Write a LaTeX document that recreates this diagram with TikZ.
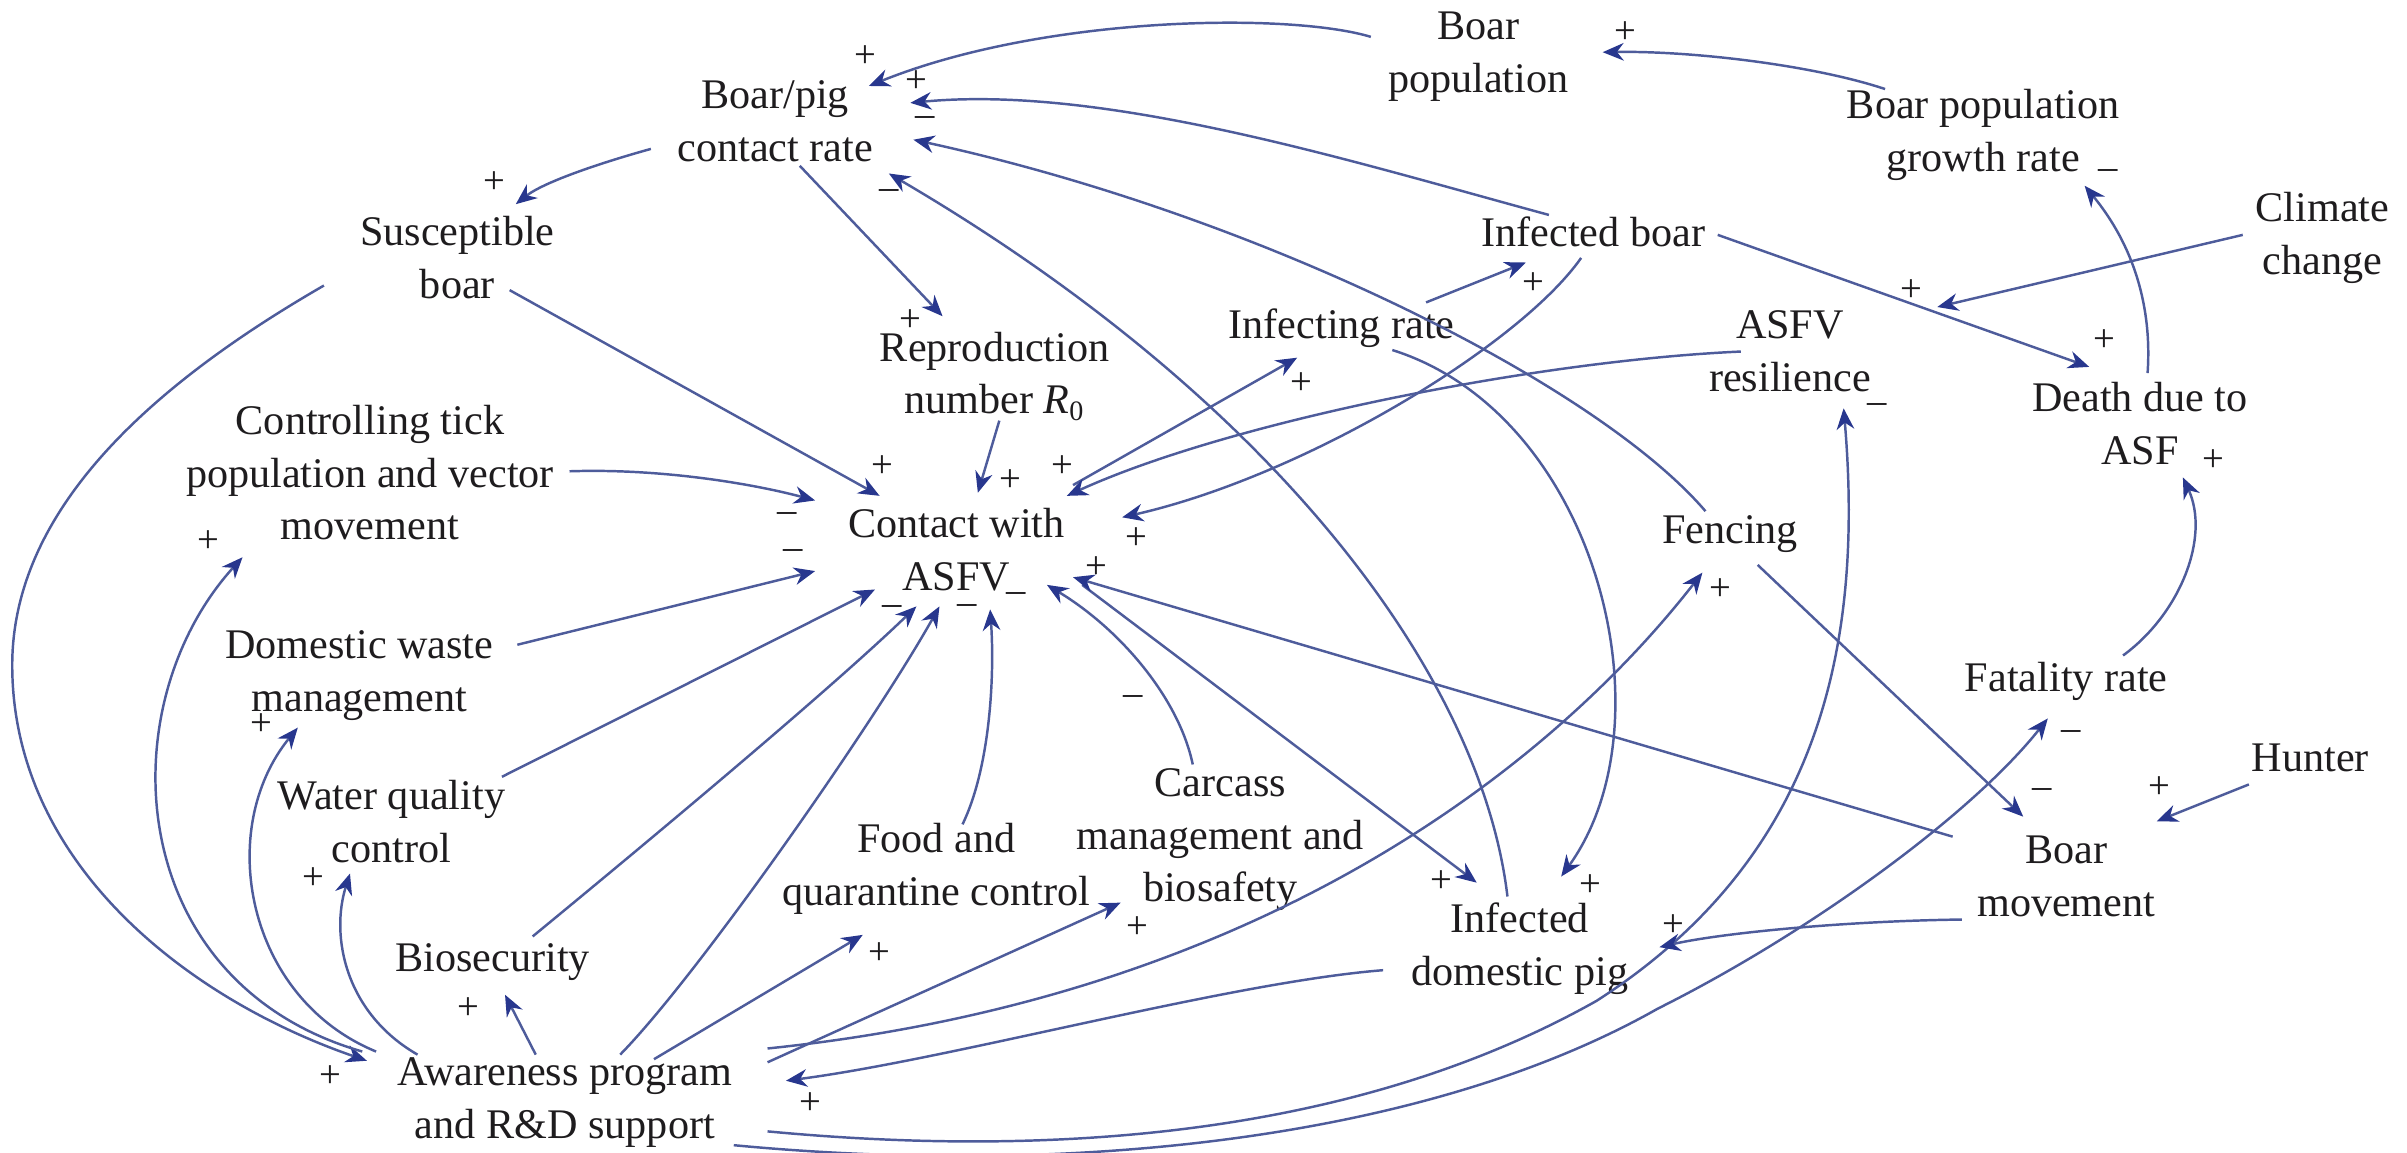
\documentclass[tikz,border=0pt]{standalone}
\usepackage{fontspec}
\setmainfont{Liberation Serif}
\usetikzlibrary{arrows.meta}
\definecolor{lnc}{RGB}{78,92,155}
\definecolor{arc}{RGB}{40,55,142}
\definecolor{txc}{RGB}{30,28,30}
\begin{document}
\begin{tikzpicture}[x=0.015351cm,y=-0.015351cm,
  lbl/.style={text=txc,font=\fontsize{12}{15}\selectfont,align=center,inner sep=1pt},
  sgn/.style={text=txc,font=\fontsize{11}{11}\selectfont,inner sep=0pt},
  lk/.style={draw=lnc,line width=0.7pt,-{Stealth[length=6pt,width=5pt,color=arc]}}]
\useasboundingbox (0,0) rectangle (1568,751);
% nodes
\node[lbl] (bp) at (505,79) {Boar/pig\\contact rate};
\node[lbl] (pop) at (963,37) {Boar\\population};
\node[lbl] (gr) at (1292,88) {Boar population\\growth rate};
\node[lbl] (sus) at (298,168) {Susceptible\\boar};
\node[lbl] (ib) at (1038,151) {Infected boar};
\node[lbl] (cc) at (1513,155) {Climate\\change};
\node[lbl] (r0) at (648,245) {Reproduction\\number \textit{R}\textsubscript{0}};
\node[lbl] (ir) at (874,214) {Infecting rate};
\node[lbl] (res) at (1166,229) {ASFV\\resilience};
\node[lbl] (death) at (1394,276) {Death due to\\ASF};
\node[lbl] (tick) at (241,308) {Controlling tick\\population and vector\\movement};
\node[lbl] (con) at (623,358) {Contact with\\ASFV};
\node[lbl] (fen) at (1127,348) {Fencing};
\node[lbl] (waste) at (234,440) {Domestic waste\\management};
\node[lbl] (fat) at (1346,444) {Fatality rate};
\node[lbl] (water) at (255,535) {Water quality\\control};
\node[lbl] (hunt) at (1505,494) {Hunter};
\node[lbl] (food) at (610,566) {Food and\\quarantine control};
\node[lbl] (carc) at (795,547) {Carcass\\management and\\biosafety};
\node[lbl] (idp) at (990,618) {Infected\\domestic pig};
\node[lbl] (bm) at (1346,571) {Boar\\movement};
\node[lbl] (bio) at (321,627) {Biosecurity};
\node[lbl] (aw) at (368,718) {Awareness program\\and R\&D support};
% waypoints
\coordinate (w1) at (8,430);
\coordinate (w2) at (1040,652);
\coordinate (w3) at (1080,657);
\coordinate (cct) at (1262,200);
% links
\draw[lk] ([shift={(-70,-13)}]pop.center) .. controls (840,8) and (680,10) .. ([shift={(61,-23)}]bp.center);
\draw[lk] ([shift={(-64,-30)}]gr.center) .. controls (1180,42) and (1100,33) .. ([shift={(81,-3)}]pop.center);
\draw[lk] ([shift={(-29,-11)}]ib.center) .. controls (880,105) and (720,55) .. ([shift={(88,-12)}]bp.center);
\draw[lk] ([shift={(-16,-15)}]fen.center) .. controls (1040,250) and (820,140) .. ([shift={(90,12)}]bp.center);
\draw[lk] ([shift={(-8,-34)}]idp.center) .. controls (965,440) and (830,260) .. ([shift={(74,34)}]bp.center);
\draw[lk] ([shift={(-81,18)}]bp.center) .. controls (395,105) and (355,118) .. ([shift={(38,-35)}]sus.center);
\draw[lk] ([shift={(16,29)}]bp.center) -- ([shift={(-34,-39)}]r0.center);
\draw[lk] ([shift={(34,21)}]sus.center) -- ([shift={(-50,-35)}]con.center);
\draw[lk] ([shift={(3,29)}]r0.center) -- ([shift={(14,-37)}]con.center);
\draw[lk] ([shift={(55,-17)}]ir.center) -- ([shift={(-44,20)}]ib.center);
\draw[lk] ([shift={(76,-42)}]con.center) -- ([shift={(-29,19)}]ir.center);
\draw[lk] ([shift={(-32,0)}]res.center) .. controls (1000,235) and (800,275) .. ([shift={(72,-35)}]con.center);
\draw[lk] ([shift={(-8,17)}]ib.center) .. controls (990,225) and (850,310) .. ([shift={(108,-21)}]con.center);
\draw[lk] ([shift={(33,14)}]ir.center) .. controls (1040,270) and (1090,470) .. ([shift={(27,-47)}]idp.center);
\draw[lk] ([shift={(82,23)}]con.center) -- ([shift={(-28,-43)}]idp.center);
\draw[lk] ([shift={(-74,-26)}]bm.center) -- ([shift={(76,18)}]con.center);
\draw[lk] ([shift={(-18,-49)}]carc.center) .. controls (768,455) and (730,410) .. ([shift={(59,23)}]con.center);
\draw[lk] ([shift={(17,-29)}]food.center) .. controls (645,500) and (648,440) .. ([shift={(22,39)}]con.center);
\draw[lk] ([shift={(130,-1)}]tick.center) .. controls (430,305) and (490,315) .. ([shift={(-92,-32)}]con.center);
\draw[lk] ([shift={(103,-20)}]waste.center) -- ([shift={(-92,14)}]con.center);
\draw[lk] ([shift={(72,-29)}]water.center) -- ([shift={(-53,26)}]con.center);
\draw[lk] ([shift={(26,-17)}]bio.center) .. controls (420,550) and (540,450) .. ([shift={(-26,37)}]con.center);
\draw[lk] ([shift={(36,-31)}]aw.center) .. controls (455,635) and (570,470) .. ([shift={(-11,37)}]con.center);
\draw[lk] ([shift={(58,-28)}]aw.center) -- ([shift={(-48,43)}]food.center);
\draw[lk] ([shift={(132,-26)}]aw.center) -- ([shift={(-65,41)}]carc.center);
\draw[lk] ([shift={(132,-35)}]aw.center) .. controls (820,650) and (1010,500) .. ([shift={(-18,25)}]fen.center);
\draw[lk] ([shift={(-89,14)}]idp.center) .. controls (800,640) and (620,690) .. ([shift={(144,-14)}]aw.center);
\draw[lk] ([shift={(-87,18)}]sus.center) .. controls (100,250) and (10,330) .. (w1) .. controls (6,560) and (120,650) .. ([shift={(-129,-27)}]aw.center);
\draw[lk] ([shift={(-132,-33)}]aw.center) .. controls (80,640) and (70,460) .. ([shift={(-83,55)}]tick.center);
\draw[lk] ([shift={(-123,-33)}]aw.center) .. controls (160,650) and (140,540) .. ([shift={(-40,34)}]waste.center);
\draw[lk] ([shift={(-96,-31)}]aw.center) .. controls (225,660) and (215,610) .. ([shift={(-27,34)}]water.center);
\draw[lk] ([shift={(-19,-31)}]aw.center) -- ([shift={(8,21)}]bio.center);
\draw[lk] ([shift={(132,19)}]aw.center) .. controls (680,754) and (880,742) .. (w2) .. controls (1180,562) and (1215,430) .. ([shift={(35,37)}]res.center);
\draw[lk] ([shift={(110,28)}]aw.center) .. controls (700,767) and (930,742) .. (w3) .. controls (1180,607) and (1285,530) .. ([shift={(-12,24)}]fat.center);
\draw[lk] ([shift={(18,20)}]fen.center) -- ([shift={(-28,-39)}]bm.center);
\draw[lk] ([shift={(-40,17)}]hunt.center) -- ([shift={(59,-36)}]bm.center);
\draw[lk] ([shift={(-68,28)}]bm.center) .. controls (1200,600) and (1120,608) .. ([shift={(91,-1)}]idp.center);
\draw[lk] ([shift={(37,-17)}]fat.center) .. controls (1420,400) and (1440,350) .. ([shift={(28,35)}]death.center);
\draw[lk] ([shift={(5,-33)}]death.center) .. controls (1402,200) and (1390,160) .. ([shift={(66,33)}]gr.center);
\draw[lk] ([shift={(81,2)}]ib.center) -- ([shift={(-33,-37)}]death.center);
\draw[lk] ([shift={(-52,-2)}]cc.center) -- (cct);
% polarity signs
\foreach \x/\y/\s [count=\i] in {564/37/+, 597/53/+, 603/79/\textendash, 579/127/\textendash,
  322/119/+, 593/209/+, 575/304/+, 658/313/+, 692/304/+, 740/351/+, 848/250/+, 999/185/+,
  1059/21/+, 1373/114/\textendash, 1245/189/+, 1371/222/+, 1223/266/\textendash, 1442/300/+,
  513/337/\textendash, 517/361/\textendash, 581/398/\textendash, 630/397/\textendash, 662/389/\textendash,
  714/370/+, 738/456/\textendash, 136/353/+, 170/472/+, 204/572/+, 305/657/+, 215/701/+,
  573/621/+, 741/604/+, 528/719/+, 939/574/+, 1036/577/+, 1121/384/+, 1090/603/+,
  1330/517/\textendash, 1407/513/+, 1349/479/\textendash}
  \node[sgn] (s\i) at (\x,\y) {\s};
\end{tikzpicture}
\end{document}
